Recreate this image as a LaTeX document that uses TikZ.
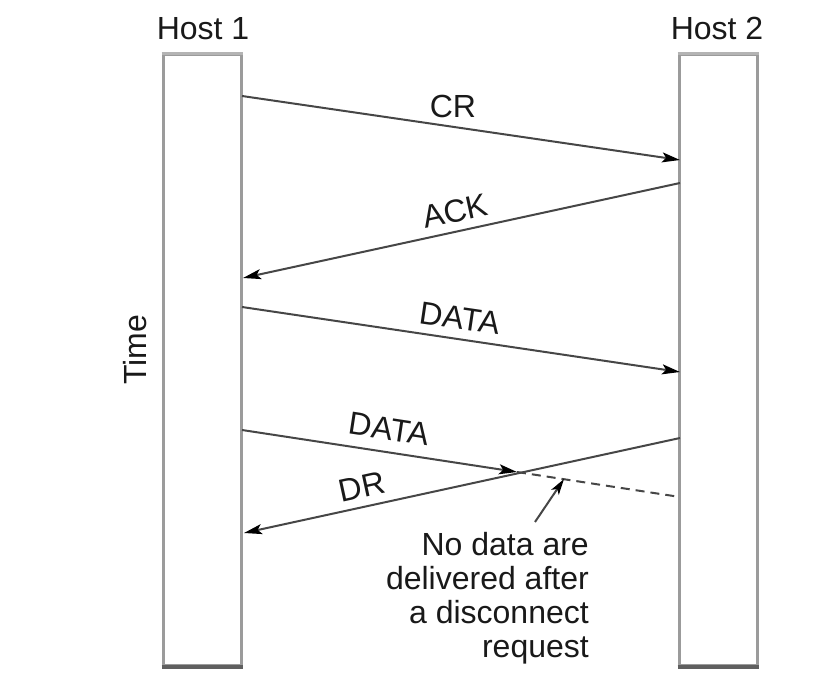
\documentclass[tikz,border=0pt]{standalone}
\usepackage{fontspec}
\setmainfont{Liberation Sans}
\usetikzlibrary{arrows.meta}
\definecolor{sidegray}{RGB}{155,155,155}
\definecolor{topgray}{RGB}{180,180,180}
\definecolor{botgray}{RGB}{95,95,95}
\definecolor{linegray}{RGB}{70,70,70}
\definecolor{txt}{RGB}{25,25,25}
\begin{document}
\begin{tikzpicture}[x=1pt,y=-1pt,
  lbl/.style={font=\fontsize{32}{34}\selectfont, text=txt, inner sep=0pt},
  hostbox/.style={draw=sidegray, line width=3pt, minimum width=78pt, minimum height=610pt, inner sep=0pt},
  msg/.style={draw=linegray, line width=2pt, -{Stealth[length=18pt,width=10pt,inset=4pt,color=black]}},
  dashmsg/.style={draw=linegray, line width=2pt, dash pattern=on 9pt off 6pt},
  note/.style={draw=linegray, line width=2pt, -{Stealth[length=16pt,width=9pt,inset=4pt,color=black]}}
]
\useasboundingbox (0,0) rectangle (838,700);

% host boxes
\node[hostbox] (h1) at (202,360) {};
\node[hostbox] (h2) at (718,360) {};
\draw[topgray, line width=3pt] (h1.north west) -- (h1.north east);
\draw[topgray, line width=3pt] (h2.north west) -- (h2.north east);
\draw[botgray, line width=4pt] (h1.south west) -- (h1.south east);
\draw[botgray, line width=4pt] (h2.south west) -- (h2.south east);

% labels
\node[lbl, anchor=base] (t1) at (203,40) {Host 1};
\node[lbl, anchor=base] (t2) at (717,40) {Host 2};
\node[lbl, rotate=90] (time) at (135,350) {Time};

% endpoints
\coordinate (cr1) at (242,96);
\coordinate (cr2) at (680,160);
\coordinate (ack1) at (680,183);
\coordinate (ack2) at (243,278);
\coordinate (da1) at (242,307);
\coordinate (da2) at (680,372);
\coordinate (db1) at (242,430);
\coordinate (dbtip) at (517,472);
\coordinate (db2) at (680,497);
\coordinate (dr1) at (680,438);
\coordinate (dr2) at (244,533);
\coordinate (ntail) at (535,522);
\coordinate (nhead) at (564,479);

% messages
\draw[msg] (cr1) -- (cr2);
\draw[msg] (ack1) -- (ack2);
\draw[msg] (da1) -- (da2);
\draw[msg] (db1) -- (dbtip);
\draw[dashmsg] (dbtip) -- (db2);
\draw[msg] (dr1) -- (dr2);
\draw[note] (ntail) -- (nhead);

% message labels
\node[lbl] (lcr) at (453,106) {CR};
\node[lbl, rotate=12.3] (lack) at (455,211) {ACK};
\node[lbl, rotate=-8.4] (lda) at (460,318) {DATA};
\node[lbl, rotate=-8.7] (ldb) at (389,429) {DATA};
\node[lbl, rotate=12.3] (ldr) at (362,487) {DR};

% note
\node[lbl, align=right, anchor=north east] (ntext) at (589,532)
  {No data are\\delivered after\\a disconnect\\request};
\end{tikzpicture}
\end{document}
